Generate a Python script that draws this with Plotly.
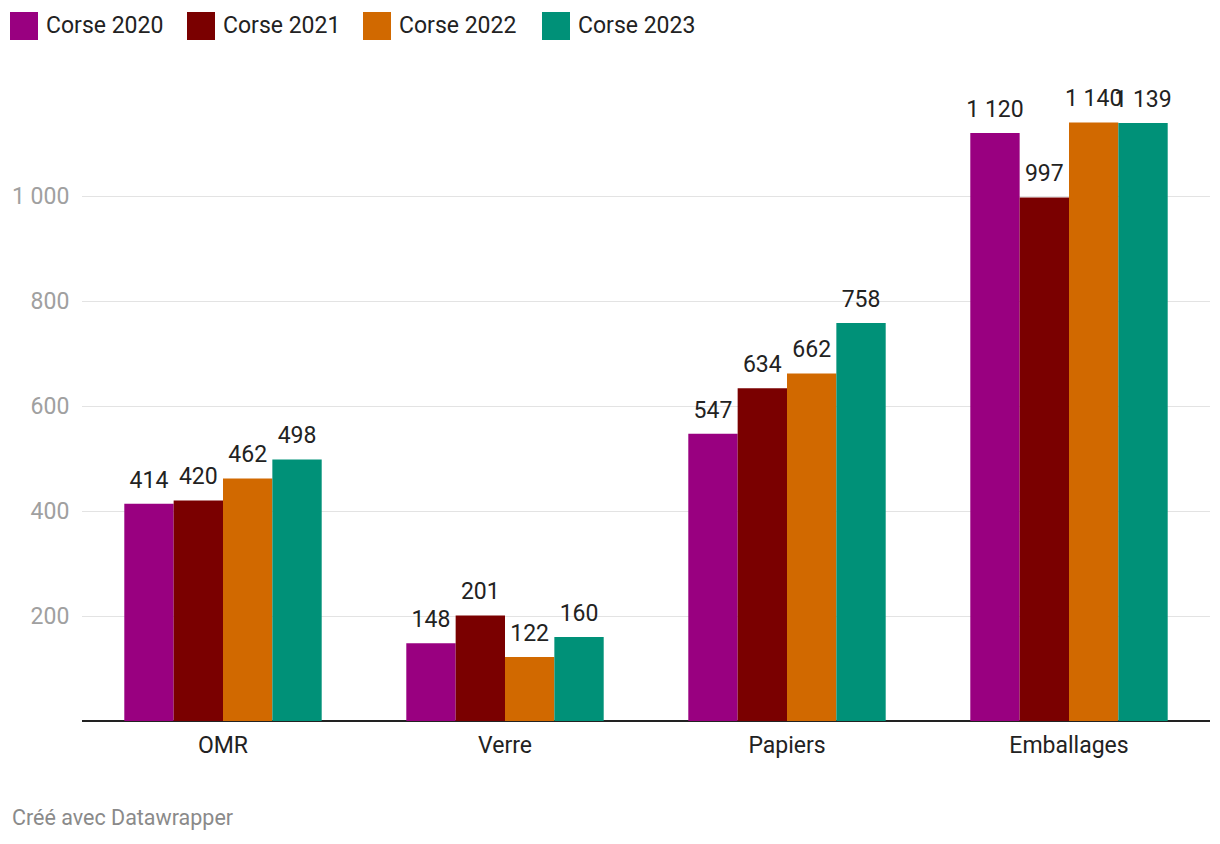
import plotly.graph_objects as go

# ---- data ----
categories = ["OMR", "Verre", "Papiers", "Emballages"]
series_names = ["Corse 2020", "Corse 2021", "Corse 2022", "Corse 2023"]
corse_2020 = [414, 148, 547, 1120]
corse_2021 = [420, 201, 634, 997]
corse_2022 = [462, 122, 662, 1140]
corse_2023 = [498, 160, 758, 1139]
y_tick_values = [200, 400, 600, 800, 1000]
y_tick_labels = ["200", "400", "600", "800", "1 000"]
footer_text = "Créé avec Datawrapper"

series_values = [corse_2020, corse_2021, corse_2022, corse_2023]
colors = ["#990080", "#7a0000", "#d16900", "#009178"]

FONT = "Roboto"
OFF = 8  # page body margin
W, H = 1220 - OFF, 844 - OFF
L, R, T, B = 82 - OFF, 10, 91 - OFF, 123
pw, ph = W - L - R, H - T - B


def px(x):
    # page pixel -> paper
    return (x - OFF - L) / pw


def py(y):
    return (H - B - (y - OFF)) / ph


def fmt(v):
    return f"{v:,}".replace(",", " ")


fig = go.Figure()
for i, (name, vals) in enumerate(zip(series_names, series_values)):
    fig.add_trace(go.Bar(
        x=categories, y=vals, name=name, marker_color=colors[i],
        marker_line_width=0, offsetgroup=str(i), showlegend=False,
    ))
for i, (name, vals) in enumerate(zip(series_names, series_values)):
    fig.add_trace(go.Scatter(
        x=categories, y=vals, name=name, mode="markers+text",
        marker=dict(size=15, opacity=0, color=colors[i]),
        text=[fmt(v) for v in vals], textposition="top center",
        textfont=dict(family=FONT, size=23, color="#222222"),
        offsetgroup=str(i), showlegend=False, cliponaxis=False,
        hoverinfo="skip",
    ))

shapes = []
annotations = []
legend_x = [10, 187, 363, 542]
for i, name in enumerate(series_names):
    x0 = legend_x[i]
    shapes.append(dict(type="rect", xref="paper", yref="paper",
                       x0=px(x0), x1=px(x0 + 28), y0=py(40), y1=py(12),
                       fillcolor=colors[i], line=dict(width=0)))
    annotations.append(dict(text=name, xref="paper", yref="paper",
                            x=px(x0 + 34), y=py(26), xanchor="left", yanchor="middle",
                            showarrow=False,
                            font=dict(family=FONT, size=23, color="#222222")))
annotations.append(dict(text=footer_text, xref="paper", yref="paper",
                        x=px(10), y=py(818), xanchor="left", yanchor="middle",
                        showarrow=False,
                        font=dict(family=FONT, size=21.5, color="#8a8a8a")))

fig.update_layout(
    width=W, height=H,
    margin=dict(l=L, r=R, t=T, b=B, pad=0, autoexpand=False),
    paper_bgcolor="white", plot_bgcolor="white",
    barmode="group", bargap=0.3, bargroupgap=0,
    scattermode="group", scattergap=0.3,
    font=dict(family=FONT, size=23, color="#222222"),
    shapes=shapes, annotations=annotations,
    xaxis=dict(type="category", showgrid=False, showline=False, zeroline=False,
               automargin=False,
               ticks="outside", ticklen=3, tickcolor="rgba(0,0,0,0)",
               tickfont=dict(family=FONT, size=23, color="#222222")),
    yaxis=dict(range=[0, 1200], tickvals=y_tick_values, ticktext=y_tick_labels,
               automargin=False,
               showgrid=True, gridcolor="#e3e3e3", gridwidth=1,
               zeroline=True, zerolinecolor="#222222", zerolinewidth=2,
               showline=False, ticks="outside", ticklen=7,
               tickcolor="rgba(0,0,0,0)",
               tickfont=dict(family=FONT, size=23, color="#a0a0a0")),
    hovermode=False,
)

fig.write_html("out.html")
